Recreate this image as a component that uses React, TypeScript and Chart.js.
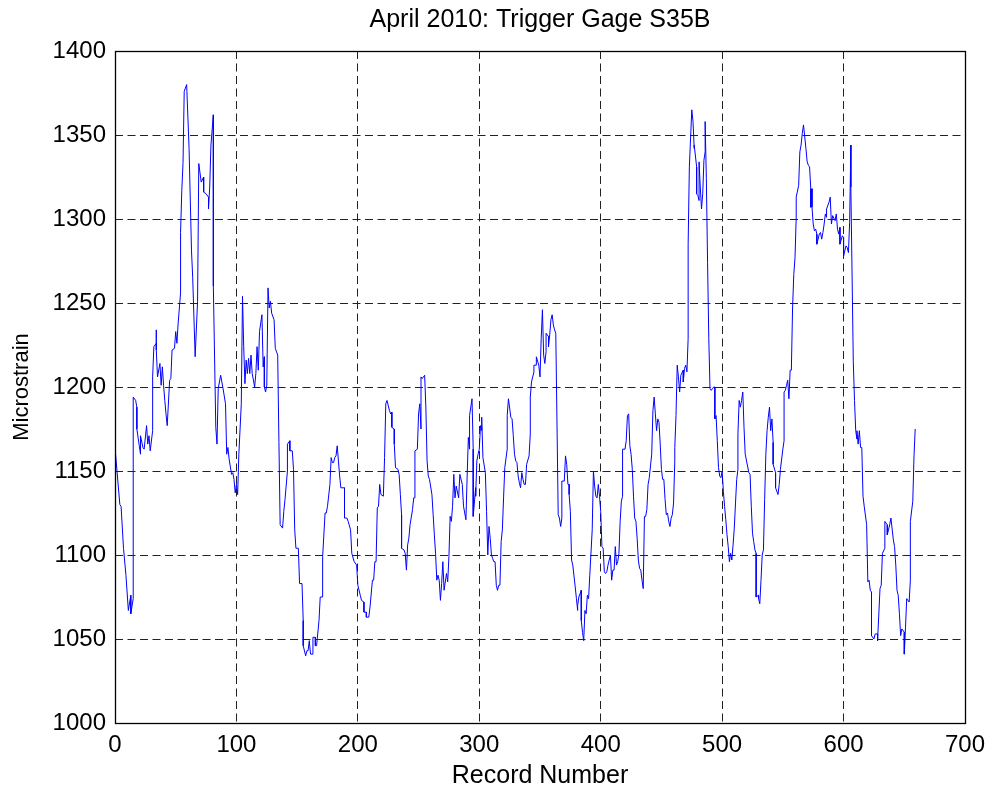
import React, { useEffect, useRef } from "react";
import { Chart, registerables } from "chart.js";

Chart.register(...registerables);

const chartTitle = "April 2010: Trigger Gage S35B";
const xAxisLabel = "Record Number";
const yAxisLabel = "Microstrain";
const xTicks = [0, 100, 200, 300, 400, 500, 600, 700];
const yTicks = [1000, 1050, 1100, 1150, 1200, 1250, 1300, 1350, 1400];

// record numbers (x) and microstrain (y)
const records = [
  0, 4, 5, 7, 9, 11, 13, 13, 15, 15, 17, 18, 18, 20, 21, 21, 23, 24, 26, 27, 28, 29, 31, 31, 32, 34, 34, 34, 35, 37,
  38, 39, 40, 41, 42, 43, 45, 46, 47, 49, 50, 51, 52, 54, 54, 55, 56, 57, 59, 61, 63,
  64, 66, 68, 69, 71, 73, 73, 75, 77, 77, 78, 79, 81, 81, 83, 84, 85, 87, 89, 91, 92, 93, 94, 96, 97, 98, 99, 100,
  101, 102, 104, 105, 106, 107, 108, 109, 110, 111, 112, 113, 115, 116, 117, 118, 119, 120, 121, 122, 123, 123, 124,
  125, 126, 127, 128, 129,
  131, 132, 134, 135, 136, 138, 139, 140, 142, 142, 144, 144, 146, 147, 148, 149, 151, 152, 154, 155, 155, 157, 158,
  159, 160, 161, 163, 163, 165, 165, 166, 168, 169, 171, 171, 173, 174, 175, 177, 178, 179, 180, 181, 182, 183, 184,
  185, 186, 189, 189, 191, 192, 194,
  195, 197, 199, 200, 202, 203, 205, 205, 207, 207, 209, 210, 212, 213, 214, 215, 216, 217, 218, 219, 221, 222, 223,
  224, 226, 227, 228, 228, 230, 230, 231, 233, 234, 235, 236, 236, 238, 239, 240, 241, 242, 243, 245, 246, 247, 247,
  249, 250, 251, 252, 252, 253, 255, 256, 257, 258, 259, 261,
  262, 263, 264, 265, 266, 267, 268, 269, 270, 271, 273, 274, 275, 276, 277, 278, 279, 280, 281, 283, 284, 286, 287,
  289, 290, 291, 292, 292, 294, 295, 295, 297, 297, 298, 299, 300, 301, 302, 302, 303, 305, 306, 307, 308, 309, 310,
  311, 312, 313, 314, 315, 316, 317, 318, 319, 320, 321, 323, 323, 324, 326,
  327, 328, 329, 330, 331, 332, 333, 334, 335, 336, 337, 338, 339, 341, 342, 342, 343, 345, 345, 347, 347, 349, 350,
  351, 352, 353, 354, 355, 355, 357, 357, 358, 359, 360, 361, 362, 363, 365, 366, 367, 368, 368, 370, 371, 372, 373,
  374, 374, 375, 376, 377, 379, 380, 381, 381, 382, 384, 384, 385, 386, 387, 388, 389, 390, 391, 393,
  394, 395, 396, 397, 398, 399, 400, 401, 402, 403, 404, 405, 406, 407, 408, 409, 410, 411, 412, 413, 414, 415, 416,
  417, 418, 418, 420, 421, 422, 423, 424, 425, 426, 427, 428, 429, 430, 431, 432, 433, 434, 435, 436, 437, 438, 439,
  440, 442, 443, 444, 445, 446, 447, 448, 449, 450, 451, 452, 453, 454, 455, 456, 457, 458, 459,
  460, 461, 461, 462, 463, 464, 465, 466, 468, 468, 469, 470, 471, 472, 472, 473, 475, 476, 477, 477, 479, 479, 480,
  481, 481, 482, 483, 484, 485, 486, 486, 487, 488, 489, 490, 491, 492, 493, 494, 494, 495, 496, 497, 498, 499, 500,
  501, 502, 503, 504, 505, 506, 507, 508, 509, 510, 511, 512, 513, 513, 514, 515, 516, 517, 518, 519, 522, 523, 524,
  525,
  526, 527, 528, 528, 530, 530, 531, 532, 533, 534, 535, 536, 537, 538, 539, 540, 541, 542, 542, 544, 544, 546, 547,
  548, 550, 551, 551, 552, 553, 554, 555, 556, 557, 558, 559, 560, 561, 561, 563, 564, 565, 566, 567, 569, 570, 571,
  572, 573, 573, 574, 574, 575, 576, 577, 578, 578, 580, 581, 582, 583, 584, 585, 586, 586, 588, 589, 590, 591,
  593, 594, 595, 596, 597, 597, 599, 600, 600, 602, 603, 604, 605, 606, 606, 608, 609, 610, 611, 611, 612, 613, 614,
  615, 616, 617, 619, 620, 621, 622, 623, 623, 625, 626, 628, 628, 630, 631, 632, 634, 634, 636, 636, 638, 639, 641,
  642, 643, 644, 645, 646, 647, 648, 650, 650, 651, 652, 654, 655, 655, 657, 658, 659,
];

const microstrain = [
  1164, 1130, 1129, 1104, 1088, 1067, 1076, 1065, 1074, 1194, 1192, 1188, 1175, 1165, 1160, 1171, 1164, 1163, 1177,
  1166, 1171, 1162, 1174, 1206, 1224, 1226, 1234, 1222, 1206, 1214, 1201, 1212, 1201, 1192, 1184, 1177, 1204, 1205,
  1222, 1223, 1233, 1226, 1238, 1256, 1292, 1317, 1333, 1376, 1380, 1342, 1281,
  1265, 1218, 1251, 1333, 1322, 1325, 1316, 1315, 1313, 1306, 1319, 1344, 1362, 1260, 1176, 1166, 1199, 1207, 1199,
  1190, 1160, 1164, 1157, 1148, 1149, 1145, 1137, 1142, 1136, 1160, 1190, 1254, 1224, 1202, 1216, 1208, 1217, 1208,
  1219, 1208, 1200, 1208, 1224, 1210, 1233, 1238, 1243, 1212, 1218, 1200, 1197, 1201, 1259, 1247, 1251, 1244,
  1240, 1223, 1219, 1167, 1118, 1116, 1126, 1133, 1150, 1166, 1168, 1162, 1162, 1151, 1115, 1104, 1104, 1083, 1083,
  1061, 1046, 1040, 1043, 1043, 1049, 1041, 1041, 1051, 1051, 1046, 1046, 1061, 1075, 1075, 1099, 1125, 1125, 1129,
  1142, 1158, 1155, 1155, 1158, 1159, 1165, 1156, 1147, 1140, 1140, 1122, 1122, 1120, 1115,
  1101, 1096, 1094, 1082, 1076, 1073, 1072, 1066, 1066, 1063, 1063, 1069, 1085, 1085, 1096, 1096, 1128, 1129, 1142,
  1136, 1135, 1158, 1190, 1192, 1186, 1184, 1185, 1176, 1175, 1166, 1152, 1151, 1148, 1136, 1124, 1104, 1103, 1101,
  1091, 1106, 1110, 1118, 1127, 1134, 1134, 1162, 1163, 1184, 1190, 1175, 1206, 1205, 1207, 1188, 1156, 1147, 1145,
  1136,
  1124, 1112, 1101, 1085, 1088, 1085, 1073, 1083, 1096, 1079, 1089, 1084, 1099, 1123, 1120, 1129, 1148, 1134, 1141,
  1134, 1148, 1142, 1129, 1121, 1147, 1170, 1163, 1183, 1193, 1163, 1123, 1140, 1135, 1156, 1160, 1163, 1177, 1174,
  1182, 1158, 1149, 1126, 1100, 1117, 1110, 1100, 1098, 1096, 1096, 1082, 1079, 1082, 1082, 1108, 1115, 1134, 1152,
  1163, 1183, 1193, 1182,
  1181, 1171, 1160, 1156, 1155, 1147, 1143, 1140, 1149, 1145, 1142, 1142, 1154, 1159, 1172, 1194, 1203, 1209, 1213,
  1213, 1218, 1213, 1206, 1229, 1246, 1219, 1214, 1221, 1232, 1230, 1224, 1231, 1240, 1243, 1237, 1234, 1232, 1124,
  1122, 1117, 1122, 1144, 1144, 1159, 1154, 1142, 1142, 1136, 1126, 1097, 1094, 1081, 1074, 1067, 1070, 1075, 1079,
  1061, 1054, 1049, 1067, 1065, 1076, 1074, 1088, 1115,
  1150, 1141, 1135, 1134, 1142, 1135, 1126, 1105, 1104, 1090, 1089, 1090, 1094, 1097, 1100, 1085, 1091, 1091, 1105,
  1094, 1096, 1101, 1120, 1132, 1135, 1163, 1163, 1168, 1183, 1184, 1165, 1160, 1151, 1135, 1122, 1120, 1110, 1097,
  1092, 1091, 1085, 1080, 1123, 1123, 1127, 1142, 1146, 1160, 1186, 1194, 1184, 1174, 1181, 1179, 1166, 1151, 1145,
  1145, 1133, 1124, 1125, 1120, 1117, 1122, 1124,
  1131, 1156, 1164, 1183, 1213, 1206, 1197, 1207, 1210, 1203, 1211, 1213, 1209, 1229, 1285, 1331, 1365, 1358, 1342,
  1344, 1331, 1315, 1314, 1311, 1334, 1319, 1306, 1315, 1335, 1340, 1358, 1324, 1274, 1229, 1199, 1198, 1199, 1200,
  1200, 1181, 1183, 1168, 1152, 1147, 1146, 1150, 1138, 1129, 1121, 1112, 1105, 1096, 1101, 1097, 1106, 1116, 1131,
  1145, 1151, 1172, 1192, 1188, 1192, 1197, 1176, 1160, 1149, 1148, 1129, 1113,
  1108, 1103, 1101, 1075, 1076, 1074, 1071, 1085, 1100, 1103, 1133, 1160, 1174, 1182, 1188, 1174, 1181, 1167, 1154,
  1149, 1140, 1136, 1142, 1151, 1163, 1168, 1197, 1198, 1201, 1204, 1193, 1210, 1210, 1247, 1267, 1277, 1301, 1313,
  1320, 1340, 1344, 1351, 1356, 1342, 1334, 1332, 1331, 1318, 1307, 1318, 1307, 1297, 1293, 1294, 1291, 1285, 1291,
  1292, 1288, 1292, 1297, 1303, 1301, 1306, 1310, 1313, 1297, 1302,
  1299, 1303, 1294, 1291, 1295, 1285, 1290, 1289, 1278, 1284, 1283, 1280, 1298, 1344, 1319, 1215, 1192, 1174, 1169,
  1174, 1166, 1174, 1164, 1164, 1135, 1129, 1118, 1084, 1085, 1079, 1078, 1052, 1050, 1053, 1053, 1049, 1080, 1082,
  1101, 1104, 1120, 1118, 1112, 1118, 1122, 1109, 1105, 1094, 1079, 1076, 1065, 1052, 1056, 1054, 1041, 1057, 1074,
  1072, 1085, 1120, 1132, 1159, 1175,
];

const FONT = "'Liberation Sans', Arial, Helvetica, sans-serif";

const boxPlugin = {
  id: "matlabBox",
  afterDraw(chart: any) {
    const { ctx, chartArea } = chart;
    const l = Math.round(chartArea.left) + 0.5;
    const t = Math.round(chartArea.top) + 0.5;
    const r = Math.round(chartArea.right) + 0.5;
    const b = Math.round(chartArea.bottom) + 0.5;
    ctx.save();
    ctx.strokeStyle = "#000";
    ctx.lineWidth = 1.3;
    ctx.setLineDash([]);
    ctx.strokeRect(l, t, r - l, b - t);
    ctx.restore();
  },
};

export default function App() {
  const ref = useRef<HTMLCanvasElement | null>(null);

  useEffect(() => {
    document.body.style.margin = "0";
    const canvas = ref.current;
    if (!canvas) return;
    const points = records.map((r, i) => ({ x: r, y: microstrain[i] }));
    const chart = new Chart(canvas, {
      type: "line",
      data: {
        datasets: [
          {
            data: points,
            borderColor: "#0000ff",
            borderWidth: 1,
            pointRadius: 0,
            tension: 0,
            fill: false,
          },
        ],
      },
      options: {
        animation: false,
        responsive: false,
        devicePixelRatio: 1,
        layout: { padding: { left: 0, right: 29, top: 0, bottom: 0 } },
        plugins: {
          legend: { display: false },
          tooltip: { enabled: false },
          title: {
            display: true,
            fullSize: false,
            text: chartTitle,
            color: "#000",
            font: { family: FONT, size: 25, weight: "normal", lineHeight: 1.2 },
            padding: { top: 5, bottom: 16 },
          },
        },
        scales: {
          x: {
            type: "linear",
            min: 0,
            max: 700,
            afterFit(scale: any) {
              scale.height = 72;
            },
            afterBuildTicks(scale: any) {
              scale.ticks = xTicks.map((v) => ({ value: v }));
            },
            ticks: {
              color: "#000",
              font: { family: FONT, size: 24 },
              padding: 8,
              maxRotation: 0,
              autoSkip: false,
              callback: (v: any) => String(v),
            },
            grid: { color: "#222", lineWidth: 1, drawTicks: false },
            border: { display: false, dash: [8, 4.5] },
            title: {
              display: true,
              text: xAxisLabel,
              color: "#000",
              font: { family: FONT, size: 25, lineHeight: 1.2 },
              padding: { top: 0, bottom: 4 },
            },
          },
          y: {
            type: "linear",
            min: 1000,
            max: 1400,
            afterFit(scale: any) {
              scale.width = 115;
            },
            afterBuildTicks(scale: any) {
              scale.ticks = yTicks.map((v) => ({ value: v }));
            },
            ticks: {
              color: "#000",
              font: { family: FONT, size: 24 },
              padding: 9,
              autoSkip: false,
              callback: (v: any) => String(v),
            },
            grid: { color: "#222", lineWidth: 1, drawTicks: false },
            border: { display: false, dash: [8, 4.5] },
            title: {
              display: true,
              text: yAxisLabel,
              color: "#000",
              font: { family: FONT, size: 22, lineHeight: 1.2 },
              padding: { top: 9, bottom: 0 },
            },
          },
        },
      },
      plugins: [boxPlugin],
    });
    return () => chart.destroy();
  }, []);

  return (
    <div style={{ width: 994, height: 795, background: "#fff" }}>
      <canvas ref={ref} width={994} height={795} style={{ display: "block" }} />
    </div>
  );
}
